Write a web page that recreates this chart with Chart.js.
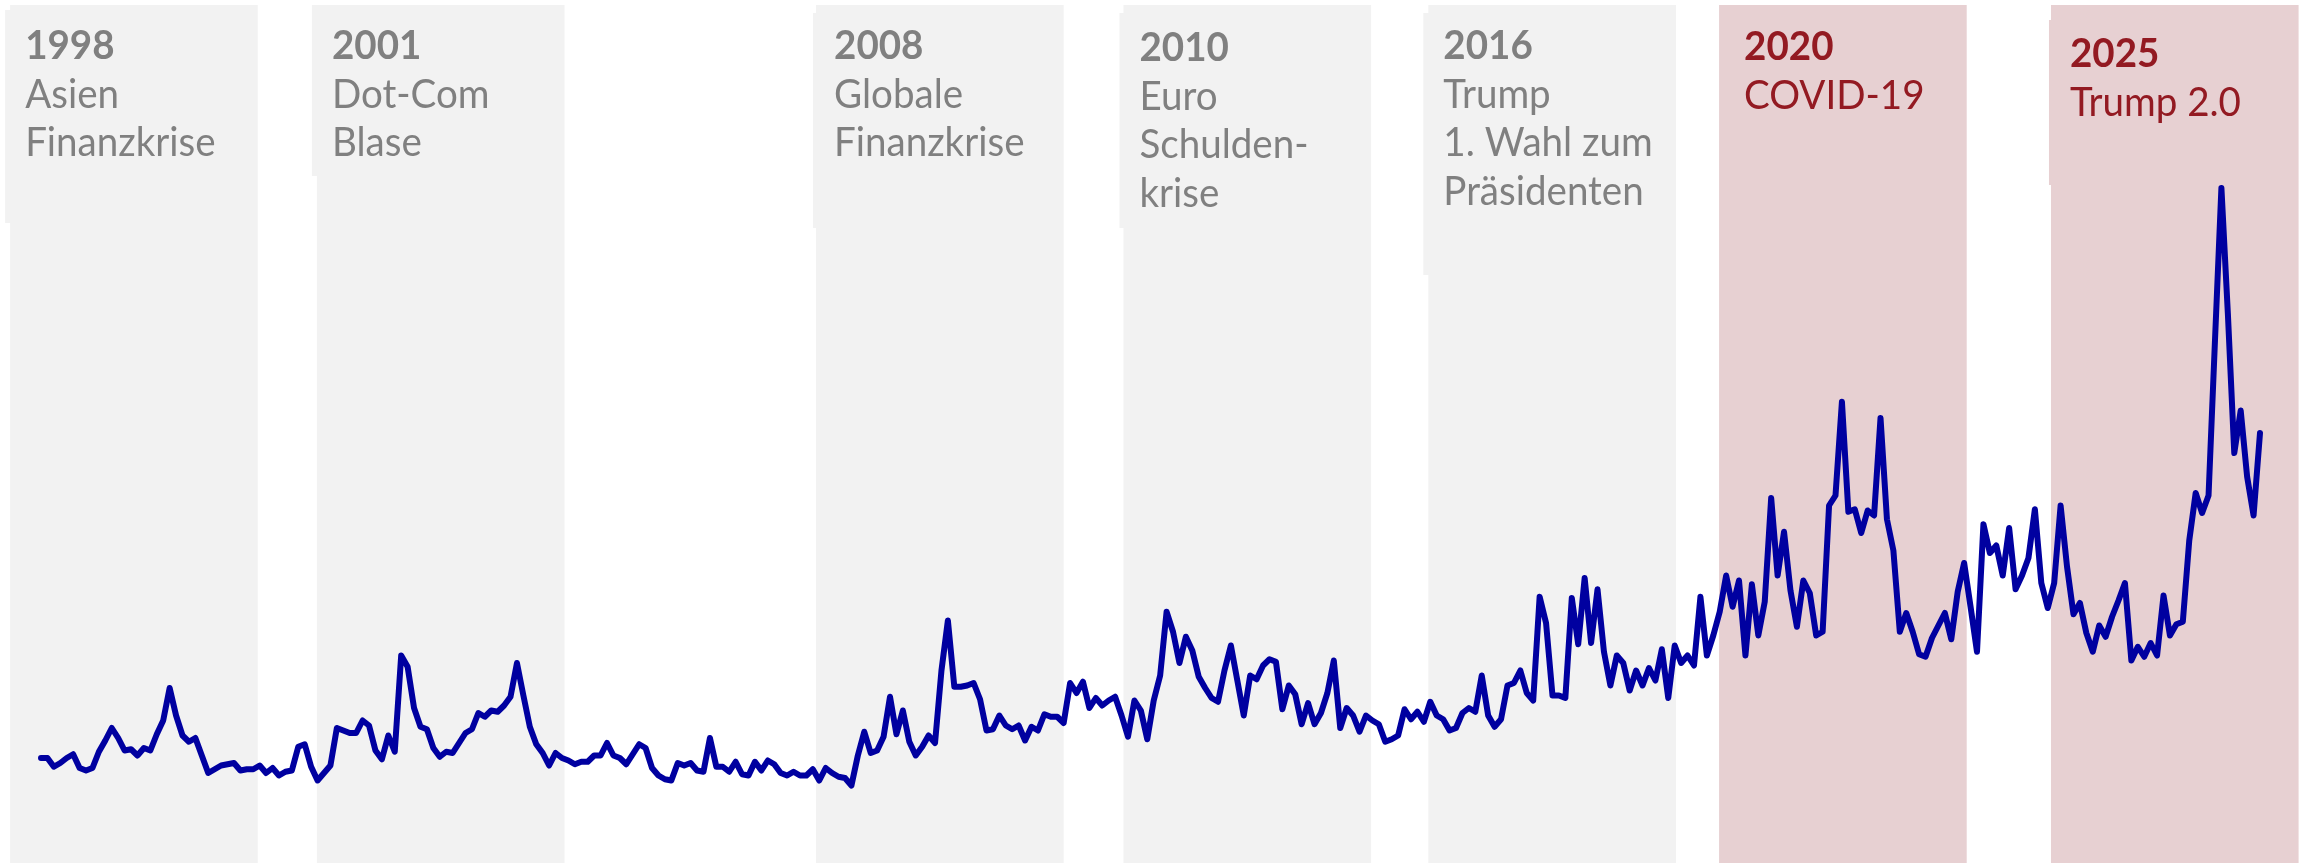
<!DOCTYPE html>
<html>
<head>
<meta charset="utf-8">
<script src="https://cdn.jsdelivr.net/npm/chart.js@4.4.1/dist/chart.umd.min.js"></script>
<style>
  html, body { margin: 0; padding: 0; background: #ffffff; }
  canvas { display: block; }
</style>
</head>
<body>
<canvas id="chart" width="2304" height="863"></canvas>
<script>
// ---------------- DATA ----------------
// Monthly index values, Jan 1997 .. Oct 2025
const startYear = 1997;
const uncertainty = [
  84, 84, 77, 80, 84, 87, 76, 74, 76, 89,
  98, 108, 100, 90, 91, 86, 92, 90, 103, 114,
  140, 118, 102, 97, 100, 86, 72, 75, 78, 79,
  80, 74, 75, 75, 78, 72, 76, 70, 73, 74,
  93, 95, 77, 66, 72, 78, 108, 106, 104, 104,
  114, 110, 90, 83, 102, 89, 166, 157, 124, 109,
  107, 92, 85, 89, 88, 96, 104, 107, 120, 117,
  122, 121, 126, 133, 160, 134, 109, 95, 88, 78,
  88, 84, 82, 79, 81, 81, 86, 86, 96, 86,
  84, 79, 87, 95, 92, 76, 70, 67, 66, 80,
  78, 80, 74, 73, 100, 77, 77, 73, 81, 71,
  70, 81, 74, 82, 79, 72, 70, 73, 70, 70,
  75, 66, 76, 72, 69, 68, 62, 86, 105, 88,
  90, 101, 133, 103, 122, 97, 86, 93, 102, 96,
  154, 194, 141, 141, 142, 144, 131, 106, 107, 118,
  110, 107, 110, 98, 109, 106, 119, 117, 117, 112,
  144, 136, 145, 124, 132, 126, 130, 133, 118, 101,
  130, 122, 99, 130, 150, 201, 185, 160, 181, 170,
  149, 140, 132, 129, 154, 174, 146, 118, 150, 147,
  158, 163, 161, 123, 142, 135, 111, 128, 111, 120,
  136, 162, 108, 124, 118, 105, 118, 114, 111, 97,
  99, 102, 123, 115, 121, 113, 129, 118, 115, 106,
  108, 120, 124, 121, 150, 118, 109, 115, 142, 144,
  154, 136, 130, 213, 192, 134, 134, 132, 212, 175,
  228, 176, 219, 169, 142, 166, 160, 138, 154, 142,
  156, 146, 171, 132, 174, 160, 166, 158, 213, 166,
  182, 201, 230, 205, 226, 166, 223, 182, 209, 292,
  230, 265, 218, 189, 226, 216, 182, 185, 286, 294,
  369, 281, 283, 264, 282, 278, 356, 275, 250, 185,
  200, 185, 167, 165, 180, 190, 200, 179, 217, 240,
  205, 169, 271, 248, 254, 230, 268, 219, 230, 244,
  283, 224, 204, 224, 286, 237, 199, 208, 184, 169,
  190, 181, 197, 210, 224, 162, 173, 165, 176, 166,
  214, 182, 191, 193, 258, 296, 280, 294, 418, 540,
  440, 328, 362, 309, 278, 344
];
// Month categories
const months = uncertainty.map((_, i) =>
  (startYear + Math.floor(i / 12)) + '-' + String(i % 12 + 1).padStart(2, '0'));

// Event bands (in month-index units along the x axis)
const bandYears = ['1998', '2001', '2008', '2010', '2016', '2020', '2025'];
const bandTexts = [
  ['Asien', 'Finanzkrise'],
  ['Dot-Com', 'Blase'],
  ['Globale', 'Finanzkrise'],
  ['Euro', 'Schulden-', 'krise'],
  ['Trump', '1. Wahl zum', 'Präsidenten'],
  ['COVID-19'],
  ['Trump 2.0']
];
const bandStart = [-4.8, 42.9, 120.5, 168.3, 215.7, 260.9, 312.5];
const bandEnd   = [33.7, 81.4, 159.0, 206.8, 254.2, 299.4, 351.0];
const bandHighlight = [false, false, false, false, false, true, true];

// ---------------- STYLE / LAYOUT ----------------
const GREY_BG = '#f2f2f2';
const RED_BG = '#e7d0d2';
const GREY_TXT = '#808080';
const RED_TXT = '#931a22';
const LINE_COL = '#0000a0';
const BAND_TOP = 5;
const FONT_FAMILY = 'Lato, "Open Sans", sans-serif';
const FONT_SIZE = 41;
const LINE_GAP = 48.5;
const TEXT_SX = 0.94;
// per-label: text offset from band left, baseline of year line, label box (slightly offset)
const labelLayout = [
  { dx: 15, y: 59, box: { dx: -5, top: 10, bottom: 223 } },
  { dx: 15, y: 59, box: { dx: -5, top: 5, bottom: 176 } },
  { dx: 18, y: 59, box: { dx: -3, top: 13, bottom: 228 } },
  { dx: 16, y: 61, box: { dx: -4, top: 13, bottom: 228 } },
  { dx: 15, y: 59, box: { dx: -5, top: 13, bottom: 275 } },
  { dx: 25, y: 60, box: null },
  { dx: 19, y: 67, box: { dx: -2, top: 20, bottom: 185 } }
];

function drawText(ctx, str, x, y, sx) {
  ctx.save();
  ctx.translate(x, y);
  ctx.scale(sx, 1);
  ctx.fillText(str, 0, 0);
  ctx.restore();
}

const bandPlugin = {
  id: 'eventBands',
  beforeDatasetsDraw(chart) {
    const ctx = chart.ctx;
    const xs = chart.scales.x;
    const H = chart.height;
    ctx.save();
    ctx.textBaseline = 'alphabetic';
    ctx.textAlign = 'left';
    bandStart.forEach((s, k) => {
      const x0 = xs.getPixelForValue(s);
      const x1 = xs.getPixelForValue(bandEnd[k]);
      ctx.fillStyle = bandHighlight[k] ? RED_BG : GREY_BG;
      ctx.fillRect(x0, BAND_TOP, x1 - x0, H - BAND_TOP);
      const L = labelLayout[k];
      if (L.box) {
        ctx.fillRect(x0 + L.box.dx, L.box.top, x1 - x0, L.box.bottom - L.box.top);
      }
    });
    bandStart.forEach((s, k) => {
      const x0 = xs.getPixelForValue(s);
      const L = labelLayout[k];
      const tx = x0 + L.dx;
      ctx.fillStyle = bandHighlight[k] ? RED_TXT : GREY_TXT;
      ctx.font = 'bold ' + FONT_SIZE + 'px ' + FONT_FAMILY;
      drawText(ctx, bandYears[k], tx, L.y, TEXT_SX);
      ctx.font = FONT_SIZE + 'px ' + FONT_FAMILY;
      bandTexts[k].forEach((t, j) => {
        drawText(ctx, t, tx, L.y + LINE_GAP * (j + 1), TEXT_SX);
      });
    });
    ctx.restore();
  }
};

function build() {
  new Chart(document.getElementById('chart'), {
    type: 'line',
    data: {
      labels: months,
      datasets: [{
        data: uncertainty,
        borderColor: LINE_COL,
        borderWidth: 6,
        borderJoinStyle: 'round',
        borderCapStyle: 'round',
        pointRadius: 0,
        pointHoverRadius: 0,
        tension: 0,
        fill: false
      }]
    },
    options: {
      responsive: false,
      animation: false,
      devicePixelRatio: 1,
      layout: { padding: { left: 41, right: 44, top: 0, bottom: 0 } },
      scales: {
        x: { type: 'category', display: false, offset: false },
        y: { display: false, min: 0, max: 690.4 }
      },
      plugins: { legend: { display: false }, tooltip: { enabled: false } },
      events: []
    },
    plugins: [bandPlugin]
  });
}

if (document.fonts && document.fonts.load) {
  Promise.all([
    document.fonts.load('bold 41px Lato'),
    document.fonts.load('41px Lato')
  ]).then(build, build);
} else {
  build();
}
</script>
</body>
</html>
